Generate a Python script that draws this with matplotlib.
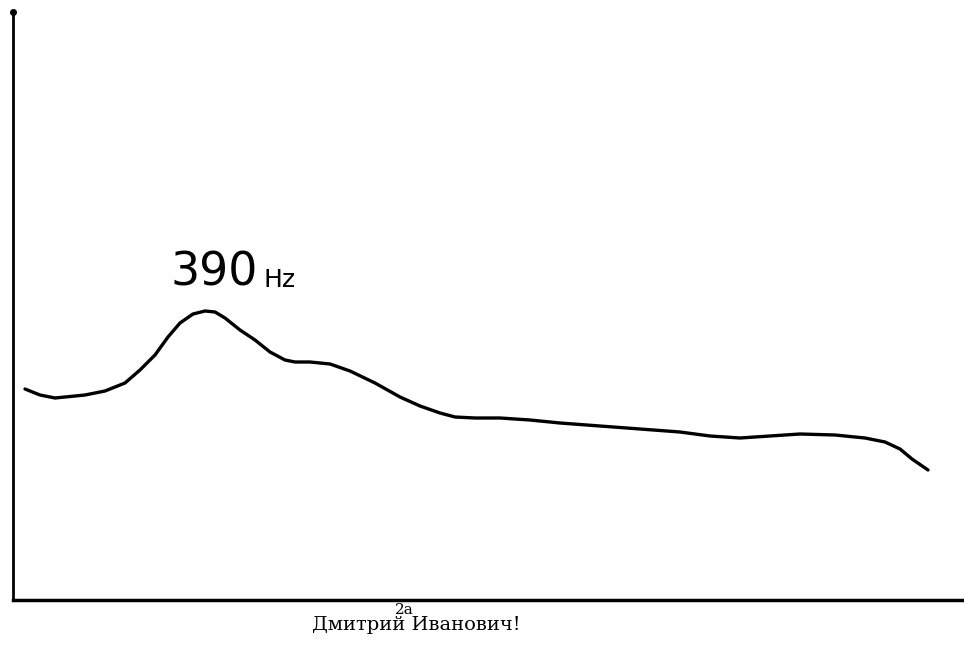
import matplotlib
matplotlib.use("Agg")
from matplotlib import pyplot as plt

# curve (x along axis, y height above axis)
freq = [12, 27, 42, 52, 72, 92, 112, 127, 142, 155, 167, 180, 192, 202, 212, 227,
        242, 257, 272, 282, 297, 317, 337, 362, 387, 407, 427, 442, 462, 487, 517,
        547, 587, 627, 667, 697, 727, 757, 787, 822, 852, 872, 887, 899, 915]
level = [211, 205, 202, 203, 205, 209, 217, 230, 245, 263, 277, 286, 289, 288, 282,
         270, 260, 248, 240, 238, 238, 236, 229, 217, 203, 194, 187, 183, 182, 182,
         180, 177, 174, 171, 168, 164, 162, 164, 166, 165, 162, 158, 151, 141, 130]
peak_label = "390"
peak_unit = "Hz"
caption_top = "2a"
caption = "Дмитрий Иванович!"

fig = plt.figure(figsize=(9.64, 6.49), dpi=100)
ax = fig.add_axes([13 / 964, 49 / 649, 951 / 964, 588 / 649])
ax.plot(freq, level, color="black", lw=2.4, solid_capstyle="round",
        solid_joinstyle="round")
ax.set_xlim(0, 951)
ax.set_ylim(0, 588)
ax.set_xticks([])
ax.set_yticks([])
ax.spines["top"].set_visible(False)
ax.spines["right"].set_visible(False)
ax.spines["left"].set_linewidth(2.0)
ax.spines["bottom"].set_linewidth(2.5)
ax.plot([0], [588], "o", color="black", ms=4, clip_on=False)

ax.text(158, 305, peak_label, fontsize=33, family="DejaVu Sans", va="bottom", ha="left")
ax.text(250, 308, peak_unit, fontsize=18, family="DejaVu Sans", va="bottom", ha="left")

fig.text(404 / 964, 1 - 614 / 649, caption_top, fontsize=11, family="DejaVu Serif",
         ha="center", va="baseline")
fig.text(416 / 964, 1 - 630 / 649, caption, fontsize=14, family="DejaVu Serif",
         ha="center", va="baseline")

fig.savefig("out.png", dpi=100)
